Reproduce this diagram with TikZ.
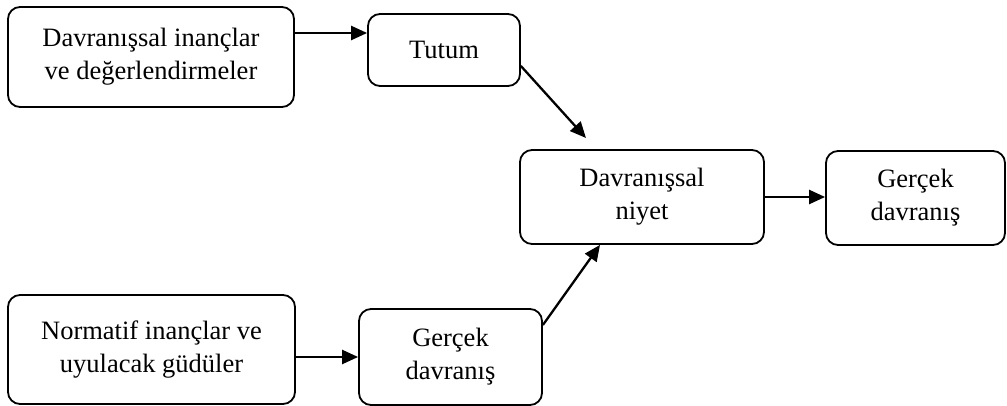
\documentclass[tikz,border=0pt]{standalone}
\usepackage{fontspec}
\setmainfont{Liberation Serif}
\usetikzlibrary{arrows.meta,calc}
\begin{document}
\begin{tikzpicture}[x=1pt,y=-1pt,
  box/.style={draw, line width=1.8pt, rounded corners=12pt, align=center, inner sep=0pt,
    font=\fontsize{26.5}{33}\selectfont},
  arr/.style={line width=2.3pt, -{Triangle[length=16pt,width=14pt]}}]
\useasboundingbox (0,0) rectangle (1007,406);
\node[box, minimum width=286pt, minimum height=100pt] (b1) at (151,57) {Davranışsal inançlar\\ve değerlendirmeler};
\node[box, minimum width=152pt, minimum height=72pt] (tutum) at (444,50) {Tutum};
\node[box, minimum width=244pt, minimum height=94pt] (niyet) at (642,197) {Davranışsal\\niyet};
\node[box, minimum width=179pt, minimum height=94pt] (right) at (915.5,198) {Gerçek\\davranış};
\node[box, minimum width=287pt, minimum height=109pt] (norm) at (151.5,349.5) {Normatif inançlar ve\\uyulacak güdüler};
\node[box, minimum width=183pt, minimum height=96pt] (bottom) at (450.5,357) {Gerçek\\davranış};
\coordinate (y1) at (0,33);
\coordinate (s2) at (0,66);
\coordinate (e2) at (586,138);
\coordinate (s5) at (0,325);
\coordinate (e5) at (600,0);
\draw[arr] (b1.east |- y1) -- (tutum.west |- y1);
\draw[arr] (tutum.east |- s2) -- (e2);
\draw[arr] (niyet.east) -- (right.west |- niyet.east);
\draw[arr] (norm.east |- bottom.west) -- (bottom.west);
\draw[arr] (bottom.east |- s5) -- (niyet.south -| e5);
\end{tikzpicture}
\end{document}
